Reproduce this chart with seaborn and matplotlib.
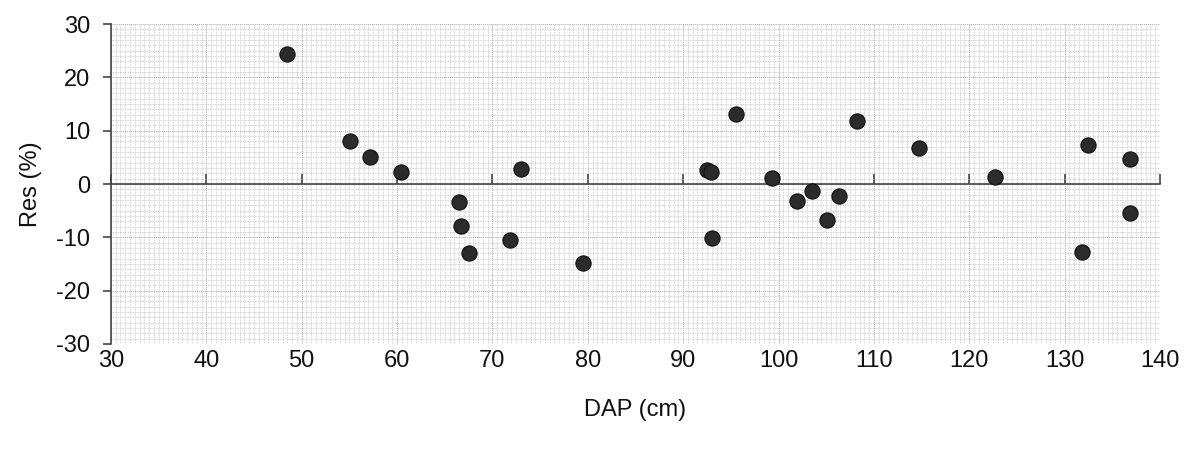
import numpy as np
import pandas as pd
import matplotlib
matplotlib.use("Agg")
import matplotlib.pyplot as plt
import seaborn as sns
from matplotlib.ticker import MultipleLocator

dap = [48.5, 55.1, 57.2, 60.4, 66.5, 66.7, 67.5, 71.8, 73.0, 79.5,
       92.5, 92.9, 93.0, 95.5, 99.3, 101.9, 103.5, 105.1, 106.3, 108.2,
       114.7, 122.7, 131.8, 132.5, 136.9, 136.9]
res = [24.4, 8.1, 5.1, 2.3, -3.4, -7.9, -12.9, -10.5, 2.8, -14.8,
       2.6, 2.2, -10.1, 13.1, 1.1, -3.2, -1.3, -6.8, -2.3, 11.8,
       6.8, 1.3, -12.8, 7.3, 4.7, -5.4]
x_ticks = [30, 40, 50, 60, 70, 80, 90, 100, 110, 120, 130, 140]
y_ticks = [-30, -20, -10, 0, 10, 20, 30]

df = pd.DataFrame({"DAP (cm)": dap, "Res (%)": res})

sns.set_style("white")
plt.rcParams["font.family"] = ["Liberation Sans", "DejaVu Sans"]
plt.rcParams["text.color"] = "#111111"
plt.rcParams["axes.labelcolor"] = "#111111"
plt.rcParams["xtick.color"] = "#111111"
plt.rcParams["ytick.color"] = "#111111"

fig = plt.figure(figsize=(11.88, 4.5), dpi=100)
ax = fig.add_axes([0.0934, 0.2356, 0.883, 0.711])

sns.scatterplot(data=df, x="DAP (cm)", y="Res (%)", ax=ax, s=120,
                color="#2b2b2b", edgecolor="#111111", linewidth=0.8, zorder=5)

ax.set_xlim(30, 140)
ax.set_ylim(-30, 30)

# fine grid
ax.xaxis.set_minor_locator(MultipleLocator(0.5))
ax.yaxis.set_minor_locator(MultipleLocator(1))
ax.grid(which="minor", color="#c4c4c4", linewidth=0.6, linestyle=(0, (1, 1)))
ax.grid(which="major", color="#a8a8a8", linewidth=0.7, linestyle=(0, (1, 1)))
ax.set_axisbelow(True)

# zero line as x-axis with upward ticks
ax.spines["bottom"].set_position(("data", 0))
ax.spines["bottom"].set_color("#444444")
ax.spines["bottom"].set_linewidth(1.2)
ax.spines["top"].set_visible(False)
ax.spines["right"].set_visible(False)
ax.spines["left"].set_color("#444444")
ax.spines["left"].set_linewidth(1.2)

ax.set_xticks(x_ticks)
ax.set_xticklabels([])
ax.tick_params(axis="x", which="major", direction="in", length=7, width=1.2,
               color="#444444", bottom=True)
ax.tick_params(axis="x", which="minor", length=0)
ax.set_yticks(y_ticks)
ax.set_yticklabels([str(v) for v in y_ticks], fontsize=17, color="#111111")
ax.tick_params(axis="y", which="major", direction="out", length=6, width=1.2,
               color="#444444", labelcolor="#111111", left=True, pad=9)
ax.tick_params(axis="y", which="minor", length=0)

sec = ax.secondary_xaxis(location=0.0)
sec.set_xticks(x_ticks)
sec.set_xticklabels([str(v) for v in x_ticks], fontsize=17, color="#111111")
sec.tick_params(length=0, pad=4, labelcolor="#111111")
sec.spines["bottom"].set_visible(False)
sec.set_xlabel("DAP (cm)", fontsize=17, labelpad=20, color="#111111")

ax.set_xlabel("")
ax.set_ylabel("Res (%)", fontsize=17, labelpad=10, color="#111111")

fig.savefig("out.png", dpi=100)
